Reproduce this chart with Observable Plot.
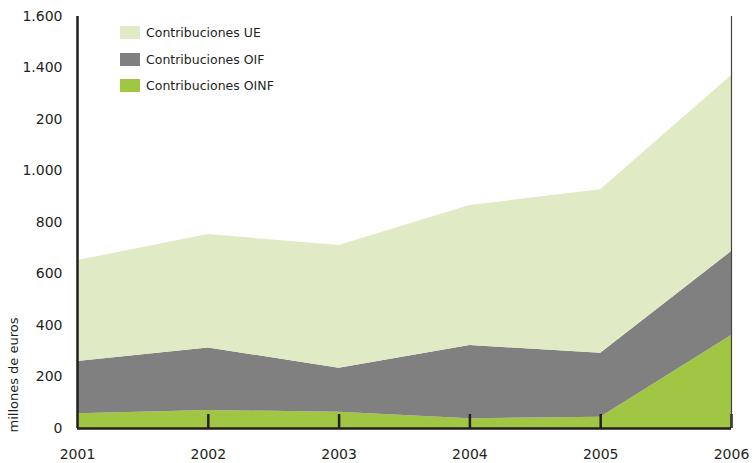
<!DOCTYPE html>
<html>
<head>
<meta charset="utf-8">
<script src="https://cdn.jsdelivr.net/npm/d3@7"></script>
<script src="https://cdn.jsdelivr.net/npm/@observablehq/plot@0.6"></script>
<style>
  html, body { margin: 0; padding: 0; background: #fff; }
  #chart { position: relative; width: 756px; height: 463px; }
  .legend { position: absolute; left: 120px; top: 26px; font-family: "DejaVu Sans", sans-serif; font-size: 12.5px; color: #231f20; }
  .legend .item { display: flex; align-items: center; height: 13px; margin-bottom: 13.5px; }
  .legend .sw { width: 20px; height: 13px; margin-right: 6px; }
</style>
</head>
<body>
<div id="chart"></div>
<script>
const years = [2001, 2002, 2003, 2004, 2005, 2006];
const seriesNames = ["Contribuciones OINF", "Contribuciones OIF", "Contribuciones UE"];
const valuesOINF = [57, 70, 63, 38, 44, 361];
const valuesOIF = [203, 243, 171, 284, 248, 326];
const valuesUE = [392, 440, 477, 544, 635, 684];
const colors = ["#a0c644", "#808080", "#e0eac5"];
const yTickValues = [0, 200, 400, 600, 800, 1000, 1200, 1400, 1600];
const yTickLabels = ["0", "200", "400", "600", "800", "1.000", "200", "1.400", "1.600"];
const legendOrder = ["Contribuciones UE", "Contribuciones OIF", "Contribuciones OINF"];

const allSeries = [valuesOINF, valuesOIF, valuesUE];
const data = [];
seriesNames.forEach((s, i) => years.forEach((y, j) => data.push({year: y, series: s, value: allSeries[i][j]})));

const font = "DejaVu Sans, sans-serif";
const plot = Plot.plot({
  width: 756,
  height: 463,
  marginLeft: 77,
  marginRight: 25,
  marginTop: 16,
  marginBottom: 35,
  style: {fontFamily: font, fontSize: "14px", color: "#231f20", background: "#fff"},
  x: {type: "linear", domain: [2001, 2006]},
  y: {type: "linear", domain: [0, 1600]},
  color: {domain: seriesNames, range: colors},
  marks: [
    Plot.areaY(data, {x: "year", y: "value", fill: "series", order: seriesNames}),
    Plot.axisY({ticks: yTickValues, tickSize: 0, tickPadding: 15, tickFormat: (d) => yTickLabels[yTickValues.indexOf(d)], label: null, fontSize: 14, fill: "#231f20"}),
    Plot.axisX({ticks: years, tickSize: 0, tickPadding: 21, tickFormat: (d) => String(d), label: null, fontSize: 14, fill: "#231f20"}),
    Plot.axisX({ticks: years.slice(1), tickSize: -14, tickFormat: () => "", label: null, strokeWidth: 2.5, stroke: "#231f20"}),
    Plot.ruleX([2006], {stroke: "#444", strokeWidth: 1.2}),
    Plot.ruleX([2001], {stroke: "#231f20", strokeWidth: 2.5}),
    Plot.ruleY([0], {stroke: "#231f20", strokeWidth: 2.5}),
    Plot.text(["millones de euros"], {frameAnchor: "bottom-left", dx: -60, dy: 4, rotate: -90, textAnchor: "start", fontSize: 13, fill: "#231f20"})
  ]
});
document.getElementById("chart").appendChild(plot);

const leg = document.createElement("div");
leg.className = "legend";
legendOrder.forEach((s) => {
  const item = document.createElement("div");
  item.className = "item";
  const sw = document.createElement("div");
  sw.className = "sw";
  sw.style.background = colors[seriesNames.indexOf(s)];
  const t = document.createElement("span");
  t.textContent = s;
  item.appendChild(sw);
  item.appendChild(t);
  leg.appendChild(item);
});
document.getElementById("chart").appendChild(leg);
</script>
</body>
</html>
